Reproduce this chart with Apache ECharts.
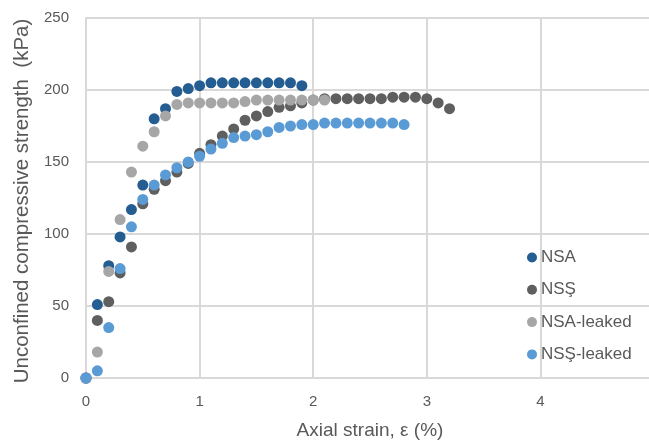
<!DOCTYPE html>
<html>
<head>
<meta charset="utf-8">
<script src="https://cdn.jsdelivr.net/npm/echarts@6/dist/echarts.min.js"></script>
<style>
html,body{margin:0;padding:0;background:#fff;}
#main{width:649px;height:441px;}
</style>
</head>
<body>
<div id="main"></div>
<script>
// axial strain (%) steps
var strain = [0, 0.1, 0.2, 0.3, 0.4, 0.5, 0.6, 0.7, 0.8, 0.9, 1.0, 1.1, 1.2, 1.3, 1.4, 1.5, 1.6,
	1.7, 1.8, 1.9, 2.0, 2.1, 2.2, 2.3, 2.4, 2.5, 2.6, 2.7, 2.8, 2.9, 3.0, 3.1, 3.2];

// unconfined compressive strength (kPa)
var nsa = [0, 51, 78, 98, 117, 134, 180, 187, 199, 201, 203, 205, 205, 205, 205, 205, 205, 205, 205, 203];
var nss = [0, 40, 53, 73, 91, 121, 131, 137, 143, 149, 156, 162, 168, 173, 179, 182, 185, 188, 189, 191,
	193, 194, 194, 194, 194, 194, 194, 195, 195, 195, 194, 191, 187];
var nsaLeaked = [0, 18, 74, 110, 143, 161, 171, 182, 190, 191, 191, 191, 191, 191, 192, 193, 193, 193,
	193, 193, 193, 193];
var nssLeaked = [0, 5, 35, 76, 105, 124, 134, 141, 146, 150, 154, 159, 163, 167, 168, 169, 171, 174, 175,
	176, 176, 177, 177, 177, 177, 177, 177, 177, 176];

var names = ['NSA', 'NSŞ', 'NSA-leaked', 'NSŞ-leaked'];
var colors = ['#245d91', '#5f5f5f', '#a6a6a6', '#5b9bd5'];
var xTicks = [0, 1, 2, 3, 4, 5];

function pairs(ys){
	var out = [];
	for (var i = 0; i < ys.length; i++) {
		out.push([strain[i], ys[i]]);
	}
	return out;
}

var font = 'Liberation Sans, Arial, sans-serif';
var gridColor = '#d9d9d9';

var myChart = echarts.init(document.getElementById('main'));
var option = {
	animation: false,
	textStyle: {fontFamily: font},
	grid: {left: 86, top: 18, right: -5, bottom: 63, outerBoundsMode: 'none', containLabel: false},
	legend: {
		orient: 'vertical',
		left: 522,
		top: 244,
		icon: 'circle',
		itemWidth: 10,
		itemHeight: 10,
		itemGap: 15.3,
		data: names,
		textStyle: {fontFamily: font, fontSize: 17, color: '#595959', lineHeight: 16, padding: [0, 0, 0, -1]}
	},
	xAxis: {
		type: 'value',
		min: 0,
		max: 5,
		interval: 1,
		name: 'Axial strain, ε (%)',
		nameLocation: 'middle',
		nameGap: 43,
		nameTextStyle: {fontFamily: font, fontSize: 19, color: '#595959'},
		axisLine: {lineStyle: {color: gridColor, width: 2}},
		axisTick: {show: false},
		axisLabel: {fontFamily: font, fontSize: 15, color: '#595959', margin: 16,
			formatter: function(v){ return xTicks.indexOf(v) >= 0 ? String(v) : ''; }},
		splitLine: {show: true, lineStyle: {color: gridColor, width: 2}}
	},
	yAxis: {
		type: 'value',
		min: 0,
		max: 250,
		interval: 50,
		name: 'Unconfined compressive strength  (kPa)',
		nameLocation: 'middle',
		nameGap: 48,
		nameTextStyle: {fontFamily: font, fontSize: 20.5, color: '#595959', padding: [0, 6, 0, 0]},
		axisLine: {show: true, lineStyle: {color: gridColor, width: 2}},
		axisTick: {show: false},
		axisLabel: {fontFamily: font, fontSize: 15, color: '#595959', margin: 17},
		splitLine: {show: true, lineStyle: {color: gridColor, width: 2}}
	},
	series: [
		{name: names[0], type: 'scatter', data: pairs(nsa)},
		{name: names[1], type: 'scatter', data: pairs(nss)},
		{name: names[2], type: 'scatter', data: pairs(nsaLeaked)},
		{name: names[3], type: 'scatter', data: pairs(nssLeaked)}
	].map(function(s, i){
		s.symbol = 'circle';
		s.symbolSize = 11;
		s.itemStyle = {color: colors[i], opacity: 1};
		return s;
	})
};
myChart.setOption(option);
</script>
</body>
</html>
